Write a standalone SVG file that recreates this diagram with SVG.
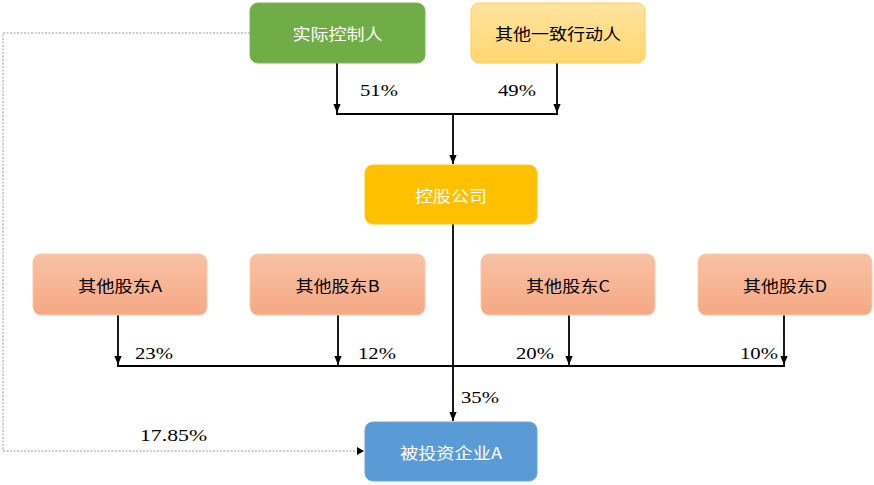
<svg xmlns="http://www.w3.org/2000/svg" width="874" height="485" viewBox="0 0 874 485">
<defs>
<linearGradient id="gy" x1="0" y1="0" x2="0" y2="1"><stop offset="0" stop-color="#FFE3A0"/><stop offset="1" stop-color="#FFD670"/></linearGradient>
<linearGradient id="gs" x1="0" y1="0" x2="0" y2="1"><stop offset="0" stop-color="#F8C2A6"/><stop offset="1" stop-color="#F5A883"/></linearGradient>
<marker id="ar2" viewBox="0 0 10 10" refX="10" refY="5" markerWidth="9" markerHeight="9" orient="auto" markerUnits="userSpaceOnUse"><path d="M0,1 L10,5 L0,9 z" fill="#000"/></marker>
<style>
.t{font-family:"Noto Sans CJK SC","Liberation Sans",sans-serif;font-size:16px;text-anchor:middle;dominant-baseline:central}
.w{fill:#fff}
.k{fill:#000}
.p{font-family:"Liberation Serif",serif;font-size:17px;fill:#000}
.ln{stroke:#000;stroke-width:1.8;fill:none}
.dt{stroke:#999;stroke-width:1;stroke-dasharray:2 1.5;fill:none}
</style>
</defs>
<g id="connectors">
<path class="ln" d="M337,63 V113" marker-end="url(#ar2)"/>
<path class="ln" d="M557,63 V113" marker-end="url(#ar2)"/>
<path class="ln" d="M336,114 H558"/>
<path class="ln" d="M453,114 V164" marker-end="url(#ar2)"/>
<path class="ln" d="M453,224 V421" marker-end="url(#ar2)"/>
<path class="ln" d="M118,315 V365" marker-end="url(#ar2)"/>
<path class="ln" d="M338,315 V365" marker-end="url(#ar2)"/>
<path class="ln" d="M569,315 V365" marker-end="url(#ar2)"/>
<path class="ln" d="M784,315 V365" marker-end="url(#ar2)"/>
<path class="ln" d="M117,366 H785"/>
<path class="dt" d="M250,33 H3 V451 H360"/>
<path d="M357,447 L364,451 L357,455 z" fill="#000"/>
<text class="p" x="360" y="96" textLength="38" lengthAdjust="spacingAndGlyphs">51%</text>
<text class="p" x="498" y="96" textLength="38" lengthAdjust="spacingAndGlyphs">49%</text>
<text class="p" x="135" y="359" textLength="38" lengthAdjust="spacingAndGlyphs">23%</text>
<text class="p" x="358" y="359" textLength="38" lengthAdjust="spacingAndGlyphs">12%</text>
<text class="p" x="516" y="359" textLength="38" lengthAdjust="spacingAndGlyphs">20%</text>
<text class="p" x="740" y="359" textLength="38" lengthAdjust="spacingAndGlyphs">10%</text>
<text class="p" x="461" y="403" textLength="38" lengthAdjust="spacingAndGlyphs">35%</text>
<text class="p" x="140" y="441" textLength="67" lengthAdjust="spacingAndGlyphs">17.85%</text>
</g>
<g id="n1"><rect x="250" y="3" width="175" height="60" rx="8" fill="#70AD47" stroke="#7DB65A"/><text class="t w" x="337.5" y="33" textLength="90" lengthAdjust="spacingAndGlyphs">实际控制人</text></g>
<g id="n2"><rect x="471" y="3" width="174" height="60" rx="8" fill="url(#gy)" stroke="#FFD24A"/><text class="t k" x="558" y="33" textLength="126" lengthAdjust="spacingAndGlyphs">其他一致行动人</text></g>
<g id="n3"><rect x="365" y="165" width="172" height="59" rx="8" fill="#FFC000" stroke="#FFC61A"/><text class="t w" x="451" y="195" textLength="72" lengthAdjust="spacingAndGlyphs">控股公司</text></g>
<g id="n4"><rect x="33" y="254" width="174" height="61" rx="8" fill="url(#gs)" stroke="#F8CBAD"/><text class="t k" x="120" y="285" textLength="84" lengthAdjust="spacingAndGlyphs">其他股东A</text></g>
<g id="n5"><rect x="250" y="254" width="175" height="61" rx="8" fill="url(#gs)" stroke="#F8CBAD"/><text class="t k" x="337.5" y="285" textLength="84" lengthAdjust="spacingAndGlyphs">其他股东B</text></g>
<g id="n6"><rect x="481" y="254" width="174" height="61" rx="8" fill="url(#gs)" stroke="#F8CBAD"/><text class="t k" x="568" y="285" textLength="84" lengthAdjust="spacingAndGlyphs">其他股东C</text></g>
<g id="n7"><rect x="698" y="254" width="174" height="61" rx="8" fill="url(#gs)" stroke="#F8CBAD"/><text class="t k" x="785" y="285" textLength="84" lengthAdjust="spacingAndGlyphs">其他股东D</text></g>
<g id="n8"><rect x="365" y="422" width="172" height="59" rx="8" fill="#5B9BD5" stroke="#6AA5DA"/><text class="t w" x="451" y="452" textLength="102" lengthAdjust="spacingAndGlyphs">被投资企业A</text></g>
</svg>
